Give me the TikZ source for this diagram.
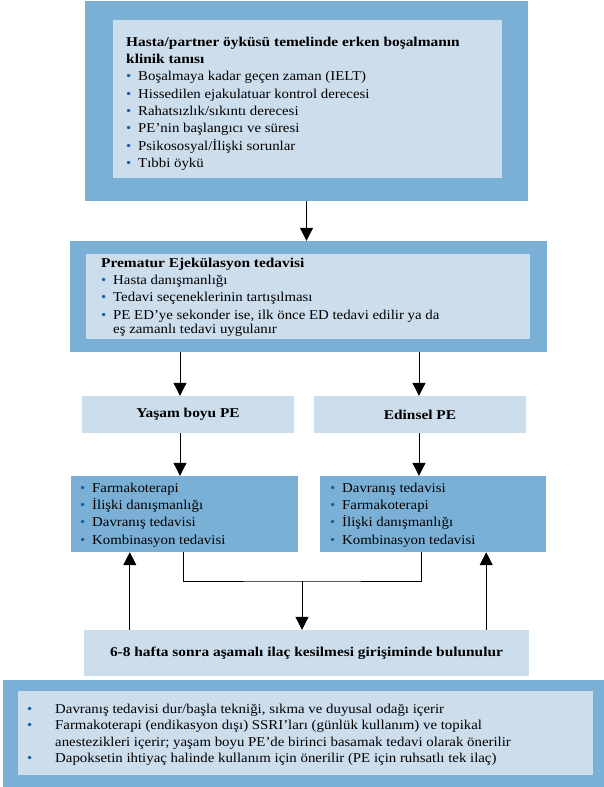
\documentclass[tikz,border=0pt]{standalone}
\usepackage{fontspec}
\setmainfont{Liberation Serif}[FakeStretch=1.1,BoldFeatures={FakeStretch=1.14}]
\usetikzlibrary{arrows.meta}
\definecolor{koyu}{HTML}{7BB0D6}
\definecolor{acik}{HTML}{CCDDEC}
\definecolor{nokta}{HTML}{1C5FA5}
\newcommand{\blt}[1][12pt]{\makebox[#1][l]{\textcolor{nokta}{\textbullet}}}

\begin{document}
\begin{tikzpicture}[x=1pt,y=-1pt,font=\fontsize{13.5}{17.3}\selectfont]
	    \tikzstyle{dis}=[fill=koyu,inner sep=0pt]
	    \tikzstyle{ic}=[fill=acik,inner sep=0pt]
	    \tikzstyle{yazi}=[anchor=north west,inner sep=0pt,align=left]
	    \tikzstyle{ok}=[-{Triangle[width=13pt,length=13pt]},line width=1pt]

	    \useasboundingbox (0,0) rectangle (604,787);

	    % kutular
	    \node[dis,minimum width=443,minimum height=200](tani) at (306.5,101){};
	    \node[ic,minimum width=389,minimum height=158](taniic) at (307.5,99){};
	    \node[dis,minimum width=477,minimum height=111](tedavi) at (308.5,296.5){};
	    \node[ic,minimum width=444,minimum height=85](tedaviic) at (308,296.5){};
	    \node[ic,minimum width=212,minimum height=37,font=\fontsize{13.5}{17}\selectfont\bfseries](yasam) at (188,414.5){Yaşam boyu PE};
	    \node[ic,minimum width=212,minimum height=37,font=\fontsize{13.5}{17}\selectfont\bfseries](edinsel) at (420,414.5){Edinsel PE};
	    \node[dis,minimum width=227,minimum height=76](tedL) at (184.5,514){};
	    \node[dis,minimum width=226,minimum height=76](tedR) at (433,514){};
	    \node[ic,minimum width=445,minimum height=46,font=\fontsize{13.5}{17}\selectfont\bfseries](kesil) at (306.5,653){6-8 hafta sonra aşamalı ilaç kesilmesi girişiminde bulunulur};
	    \node[dis,minimum width=601,minimum height=107](notlar) at (303.5,733.5){};
	    \node[ic,minimum width=575,minimum height=84](notlaric) at (305.5,733){};

	    % yazilar
	    \node[yazi](taniyazi) at (126,34){\strut\textbf{Hasta/partner öyküsü temelinde erken boşalmanın}\\
	        \textbf{klinik tanısı}\\
	        \blt Boşalmaya kadar geçen zaman (IELT)\\
	        \blt Hissedilen ejakulatuar kontrol derecesi\\
	        \blt Rahatsızlık/sıkıntı derecesi\\
	        \blt PE’nin başlangıcı ve süresi\\
	        \blt Psikososyal/İlişki sorunlar\\
	        \blt Tıbbi öykü};
	    \node[yazi](tedaviyazi) at (101,255){\strut\textbf{Prematur Ejekülasyon tedavisi}\\
	        \blt Hasta danışmanlığı\\
	        \blt Tedavi seçeneklerinin tartışılması\\
	        \blt PE ED’ye sekonder ise, ilk önce ED tedavi edilir ya da\\[-3pt]
	        \hspace*{12pt}eş zamanlı tedavi uygulanır};
	    \node[yazi](tedLyazi) at (80,480){\strut\blt Farmakoterapi\\
	        \blt İlişki danışmanlığı\\
	        \blt Davranış tedavisi\\
	        \blt Kombinasyon tedavisi};
	    \node[yazi](tedRyazi) at (330,480){\strut\blt Davranış tedavisi\\
	        \blt Farmakoterapi\\
	        \blt İlişki danışmanlığı\\
	        \blt Kombinasyon tedavisi};
	    \node[yazi,font=\fontsize{13.5}{16.3}\selectfont](notyazi) at (27,702){\strut\blt[28pt]Davranış tedavisi dur/başla tekniği, sıkma ve duyusal odağı içerir\\
	        \blt[28pt]Farmakoterapi (endikasyon dışı) SSRI’ları (günlük kullanım) ve topikal\\
	        \hspace*{28pt}anestezikleri içerir; yaşam boyu PE’de birinci basamak tedavi olarak önerilir\\
	        \blt[28pt]Dapoksetin ihtiyaç halinde kullanım için önerilir (PE için ruhsatlı tek ilaç)};

	    % oklar
	    \draw[ok] (tani.south) -- (tani.south |- tedavi.north);
	    \draw[ok] ([xshift=-8]yasam.north |- tedavi.south) -- ([xshift=-8]yasam.north);
	    \draw[ok] ([xshift=-1]edinsel.north |- tedavi.south) -- ([xshift=-1]edinsel.north);
	    \draw[ok] ([xshift=-8]yasam.south) -- ([xshift=-8]yasam.south |- tedL.north);
	    \draw[ok] ([xshift=-1]edinsel.south) -- ([xshift=-1]edinsel.south |- tedR.north);

	    \coordinate (orta) at (302,581);
	    \draw[line width=1pt] ([xshift=-1.5]tedL.south) |- (orta) -| ([xshift=-12]tedR.south);
	    \draw[ok] (orta) -- (orta |- kesil.north);
	    \draw[ok] ([xshift=46]kesil.north west) -- ([xshift=46]kesil.north west |- tedL.south);
	    \draw[ok] ([xshift=-43]kesil.north east) -- ([xshift=-43]kesil.north east |- tedR.south);
	\end{tikzpicture}
\end{document}
